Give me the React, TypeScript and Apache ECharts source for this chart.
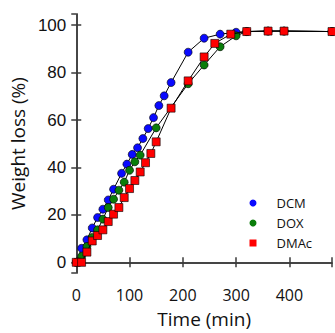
import React, { useEffect, useRef } from "react";
import * as echarts from "echarts";

const seriesNames = ["DCM", "DOX", "DMAc"];

const dcmData: [number, number][] = [
  [0, 0], [10, 5.9], [20, 9.5], [30, 14.5], [40, 18.9], [50, 22.4], [60, 26.3], [70, 30.8],
  [85, 37.5], [95, 41.4], [105, 45.5], [115, 48.3], [125, 52.2], [135, 56.4], [145, 61],
  [155, 66.1], [165, 70.2], [178, 75.8], [210, 88.6], [240, 94.5], [270, 96.2], [300, 97],
  [320, 97.3], [360, 97.5], [390, 97.5], [480, 97.3],
];

const doxData: [number, number][] = [
  [0, 0], [10, 2.5], [20, 6.7], [30, 10.5], [40, 13.7], [50, 18.2], [60, 23.1], [70, 26.6],
  [80, 30.4], [90, 33.8], [100, 38.8], [110, 42.4], [120, 45.2], [150, 56.7], [210, 75.3],
  [240, 83.2], [270, 90.9], [300, 95.5], [320, 97.3], [360, 97.5], [390, 97.5], [480, 97.3],
];

const dmacData: [number, number][] = [
  [0, 0], [10, 0], [20, 4.3], [30, 9], [40, 11.3], [50, 13.7], [60, 17.2], [70, 20.3],
  [80, 23.1], [90, 27.3], [100, 31.1], [110, 34.5], [120, 38.1], [130, 42], [140, 45.9],
  [150, 50.8], [178, 65], [210, 76.5], [240, 86.6], [260, 92.3], [290, 96.2], [320, 97.3],
  [360, 97.5], [390, 97.5], [480, 97.3],
];

const colors = ["#0a0aff", "#0a7d0a", "#ff0000"];
const symbols = ["circle", "circle", "rect"];

const X_MIN = 0;
const X_MAX = 480;
const Y_MIN = -4.5;
const Y_MAX = 104.7;

export default function App() {
  const ref = useRef<HTMLDivElement>(null);

  useEffect(() => {
    if (!ref.current) return;
    const chart = echarts.init(ref.current, undefined, { renderer: "svg" });
    const axisColor = "#3a3a3a";
    const lineStyle = { color: axisColor, width: 1.5 };
    const datas = [dcmData, doxData, dmacData];

    chart.setOption({
      animation: false,
      backgroundColor: "#ffffff",
      grid: { left: 73, right: 1.5, top: 14, bottom: 59, containLabel: false },
      legend: {
        orient: "vertical",
        left: 249.5,
        top: 196,
        padding: 0,
        itemWidth: 7,
        itemHeight: 7,
        itemGap: 6,
        itemStyle: { borderWidth: 0 },
        textStyle: {
          fontFamily: "Open Sans",
          fontSize: 13,
          color: "#111",
          lineHeight: 14,
          padding: [0, 0, 0, 15],
        },
        data: seriesNames.map((n, i) => ({ name: n, icon: symbols[i] })),
      },
      xAxis: [
        {
          type: "value",
          min: X_MIN,
          max: X_MAX,
          interval: 100,
          position: "bottom",
          name: "Time (min)",
          nameLocation: "middle",
          nameGap: 36,
          nameTextStyle: { fontFamily: "Open Sans", fontSize: 19, color: "#111" },
          axisLine: { show: true, lineStyle },
          axisTick: { show: true, inside: true, length: 5, lineStyle },
          axisLabel: {
            fontFamily: "Open Sans",
            fontSize: 16,
            color: "#111",
            margin: 14,
            formatter: (v: number) => (v % 100 === 0 && v <= 400 ? String(v) : ""),
          },
          splitLine: { show: false },
        },
        {
          type: "value",
          min: X_MIN,
          max: X_MAX,
          interval: 100,
          position: "top",
          axisLine: { show: true, lineStyle },
          axisTick: { show: true, inside: true, length: 5, lineStyle },
          axisLabel: { show: false },
          splitLine: { show: false },
        },
      ],
      yAxis: [
        {
          type: "value",
          min: Y_MIN,
          max: Y_MAX,
          position: "left",
          name: "Weight loss (%)",
          nameLocation: "middle",
          nameGap: 44,
          nameTextStyle: { fontFamily: "Open Sans", fontSize: 19, color: "#111" },
          axisLine: { show: true, lineStyle },
          axisTick: { show: true, inside: true, length: 5, lineStyle },
          axisLabel: {
            fontFamily: "Liberation Sans",
            fontSize: 17,
            color: "#111",
            margin: 10,
            showMinLabel: false,
            showMaxLabel: false,
            formatter: (v: number) => (Math.abs(v % 20) < 1e-6 ? String(v) : ""),
          },
          splitLine: { show: false },
        },
        {
          type: "value",
          min: Y_MIN,
          max: Y_MAX,
          position: "right",
          axisLine: { show: true, lineStyle },
          axisTick: { show: true, inside: true, length: 5, lineStyle },
          axisLabel: { show: false },
          splitLine: { show: false },
        },
      ],
      series: seriesNames.map((name, i) => ({
        name,
        type: "line",
        xAxisIndex: 0,
        yAxisIndex: 0,
        data: datas[i],
        symbol: symbols[i],
        symbolSize: 8,
        showAllSymbol: true,
        clip: false,
        lineStyle: { color: "#000", width: 1 },
        itemStyle: { color: colors[i], borderColor: "#000", borderWidth: 0.6 },
        z: 2 + i,
      })),
    });

    return () => chart.dispose();
  }, []);

  return (
    <div
      ref={ref}
      style={{ position: "absolute", left: 0, top: 0, width: 335, height: 333 }}
    />
  );
}
